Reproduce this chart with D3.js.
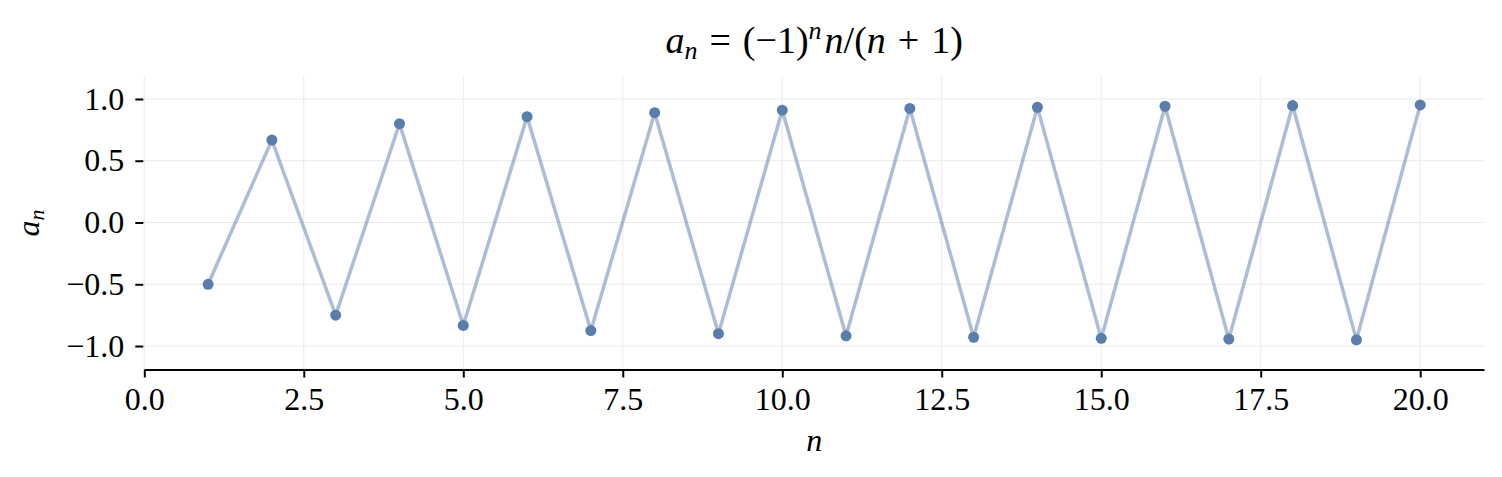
<!DOCTYPE html>
<html><head><meta charset="utf-8">
<script src="https://cdn.jsdelivr.net/npm/d3@7"></script>
<style>body{margin:0;background:#fff}</style>
</head><body>
<svg id="c" width="1502" height="477"></svg>
<script>
const nValues = [1,2,3,4,5,6,7,8,9,10,11,12,13,14,15,16,17,18,19,20];
const aValues = [-0.5,0.667,-0.75,0.8,-0.833,0.857,-0.875,0.889,-0.9,0.909,-0.917,0.923,-0.929,0.933,-0.938,0.941,-0.944,0.947,-0.95,0.952];
const xTicks = [0,2.5,5,7.5,10,12.5,15,17.5,20];
const yTicks = [-1,-0.5,0,0.5,1];

(function(){
const svg = d3.select("#c");
const pL = 144.3, pR = 1484, pT = 75.5, pB = 369.5;
const x = d3.scaleLinear().domain([0,21]).range([pL,pR]);
const y = d3.scaleLinear().domain([-1.19,1.19]).range([pB,pT]);
const font = "'Liberation Serif', serif";
const fmt = d => d3.format(".1f")(d).replace("-","\u2212");

// grid
svg.append("g").selectAll("line").data(xTicks).join("line")
  .attr("x1",d=>x(d)).attr("x2",d=>x(d)).attr("y1",pT).attr("y2",pB)
  .attr("stroke","#ebebeb").attr("stroke-width",1);
svg.append("g").selectAll("line").data(yTicks).join("line")
  .attr("x1",pL).attr("x2",pR).attr("y1",d=>y(d)).attr("y2",d=>y(d))
  .attr("stroke","#ebebeb").attr("stroke-width",1);

// x axis
const xa = svg.append("g").attr("transform",`translate(0,${pB})`)
  .call(d3.axisBottom(x).tickValues(xTicks).tickFormat(fmt).tickSize(8).tickPadding(10).tickSizeOuter(0));
xa.select(".domain").attr("stroke","#000").attr("stroke-width",2);
xa.selectAll(".tick line").attr("stroke","#000").attr("stroke-width",2);
xa.selectAll("text").attr("font-family",font).attr("font-size",32).attr("fill","#000");

// y axis (no spine)
const ya = svg.append("g").attr("transform",`translate(${pL},0)`)
  .call(d3.axisLeft(y).tickValues(yTicks).tickFormat(fmt).tickSize(8).tickPadding(12));
ya.select(".domain").remove();
ya.selectAll(".tick line").attr("stroke","#000").attr("stroke-width",2).attr("transform","translate(-1,0)");
ya.selectAll("text").attr("font-family",font).attr("font-size",32).attr("fill","#000");

// line
svg.append("path").datum(nValues.map((n,i)=>[n,aValues[i]]))
  .attr("d",d3.line().x(d=>x(d[0])).y(d=>y(d[1])))
  .attr("fill","none").attr("stroke","#5a7eab").attr("stroke-opacity",0.5).attr("stroke-width",3.5);
svg.append("g").selectAll("circle").data(nValues).join("circle")
  .attr("cx",(d)=>x(d)).attr("cy",(d,i)=>y(aValues[i])).attr("r",5.5).attr("fill","#5a7eab");

// title
const t = svg.append("text").attr("x",(pL+pR)/2).attr("y",53).attr("text-anchor","middle")
  .attr("font-family",font).attr("font-size",38).attr("fill","#000");
t.append("tspan").attr("font-style","italic").text("a");
t.append("tspan").attr("font-style","italic").attr("font-size",26).attr("dy",6).text("n");
t.append("tspan").attr("dy",-6).attr("dx",12).text("=");
t.append("tspan").attr("dx",12).text("(\u22121)");
t.append("tspan").attr("font-style","italic").attr("font-size",26).attr("dy",-14).text("n");
t.append("tspan").attr("font-style","italic").attr("dy",14).attr("dx",3).text("n");
t.append("tspan").text("/(");
t.append("tspan").attr("font-style","italic").text("n");
t.append("tspan").attr("dx",12).text("+");
t.append("tspan").attr("dx",12).text("1)");

// x label
svg.append("text").attr("x",(pL+pR)/2).attr("y",451).attr("text-anchor","middle")
  .attr("font-family",font).attr("font-size",32).attr("font-style","italic").text("n");
// y label
const yl = svg.append("text").attr("transform","translate(39,223) rotate(-90)").attr("text-anchor","middle")
  .attr("font-family",font).attr("font-size",32);
yl.append("tspan").attr("font-style","italic").text("a");
yl.append("tspan").attr("font-style","italic").attr("font-size",22).attr("dy",5).text("n");
})();
</script>
</body></html>
